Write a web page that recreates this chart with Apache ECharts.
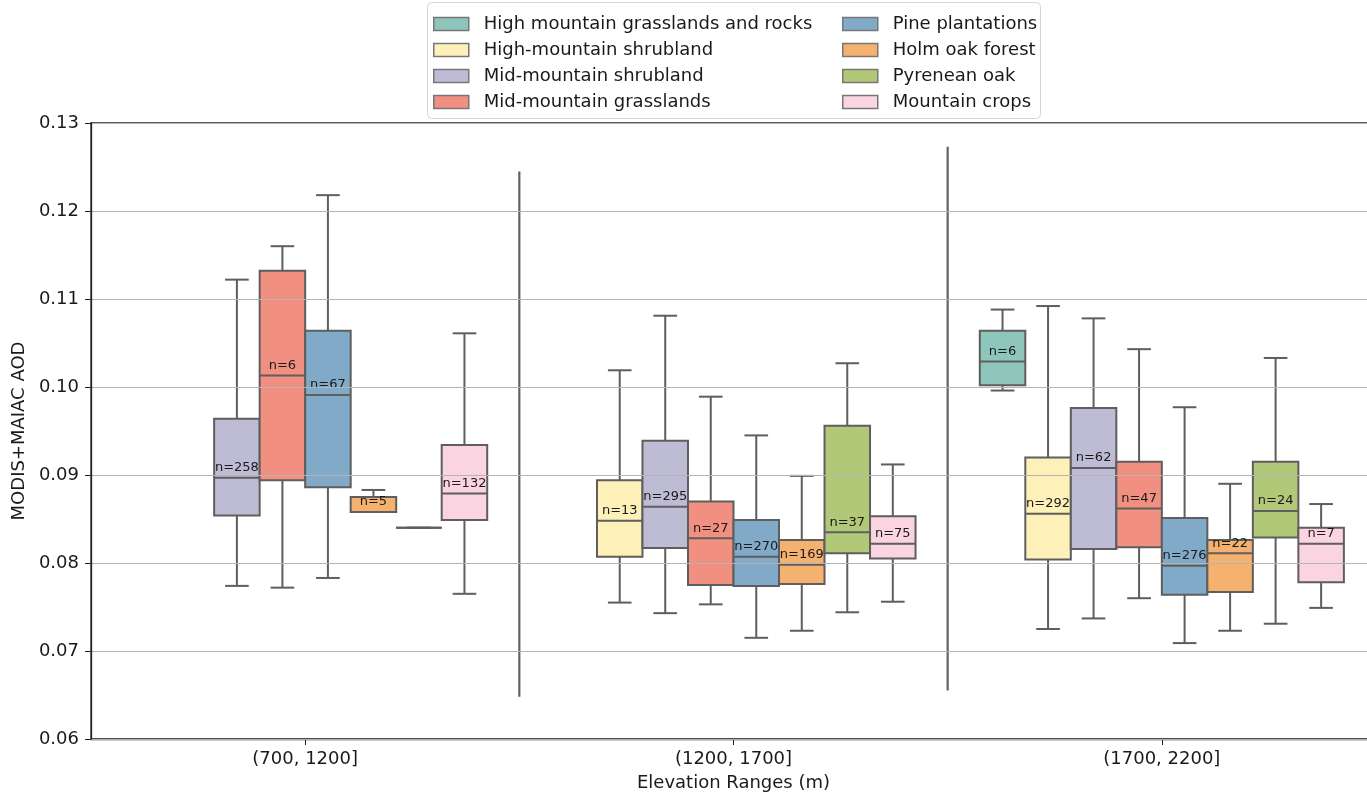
<!DOCTYPE html>
<html>
<head>
<meta charset="utf-8">
<script src="https://cdn.jsdelivr.net/npm/echarts@6/dist/echarts.min.js"></script>
<style>
html,body{margin:0;padding:0;background:#fff;}
#chart{width:1367px;height:792px;}
</style>
</head>
<body>
<div id="chart"></div>
<script>
// ---- data ----
const categories = ['(700, 1200]', '(1200, 1700]', '(1700, 2200]'];
const classNames = [
  'High mountain grasslands and rocks',
  'High-mountain shrubland',
  'Mid-mountain shrubland',
  'Mid-mountain grasslands',
  'Pine plantations',
  'Holm oak forest',
  'Pyrenean oak',
  'Mountain crops'
];
const classColors = ['#8ec6bc', '#fdf1b9', '#bebcd4', '#f18f81', '#80aac8', '#f5b16f', '#b0c878', '#fbd4e2'];
// rows: [category index, lower whisker, Q1, median, Q3, upper whisker, n]
const highGrassRocks = [[2, 0.0996, 0.1002, 0.1029, 0.1064, 0.1088, 6]];
const highShrub = [
  [1, 0.0755, 0.0807, 0.0848, 0.0894, 0.1019, 13],
  [2, 0.0725, 0.0804, 0.0856, 0.0920, 0.1092, 292]
];
const midShrub = [
  [0, 0.0774, 0.0854, 0.0897, 0.0964, 0.1122, 258],
  [1, 0.0743, 0.0817, 0.0864, 0.0939, 0.1081, 295],
  [2, 0.0737, 0.0816, 0.0908, 0.0976, 0.1078, 62]
];
const midGrass = [
  [0, 0.0772, 0.0894, 0.1013, 0.1132, 0.1160, 6],
  [1, 0.0753, 0.0775, 0.0828, 0.0870, 0.0989, 27],
  [2, 0.0760, 0.0818, 0.0862, 0.0915, 0.1043, 47]
];
const pinePlant = [
  [0, 0.0783, 0.0886, 0.0991, 0.1064, 0.1218, 67],
  [1, 0.0715, 0.0774, 0.0807, 0.0849, 0.0945, 270],
  [2, 0.0709, 0.0764, 0.0797, 0.0851, 0.0977, 276]
];
const holmOak = [
  [0, 0.0858, 0.0858, 0.0858, 0.0875, 0.0883, 5],
  [1, 0.0723, 0.0776, 0.0798, 0.0826, 0.0899, 169],
  [2, 0.0723, 0.0767, 0.0811, 0.0826, 0.0890, 22]
];
const pyreneanOak = [
  [0, 0.0840, 0.0840, 0.0840, 0.0840, 0.0840, 0],
  [1, 0.0744, 0.0811, 0.0835, 0.0956, 0.1027, 37],
  [2, 0.0731, 0.0829, 0.0859, 0.0915, 0.1033, 24]
];
const mountainCrops = [
  [0, 0.0765, 0.0849, 0.0879, 0.0934, 0.1061, 132],
  [1, 0.0756, 0.0805, 0.0822, 0.0853, 0.0912, 75],
  [2, 0.0749, 0.0778, 0.0822, 0.0840, 0.0867, 7]
];
const classData = [highGrassRocks, highShrub, midShrub, midGrass, pinePlant, holmOak, pyreneanOak, mountainCrops];
// separator lines between categories: [after category index, low, high]
const separators = [[0, 0.0648, 0.1245], [1, 0.0655, 0.1273]];
const yTicks = { min: 0.06, max: 0.13, step: 0.01 };

// ---- chart ----
const LINE = '#5e5e5e';
const SPAN = 0.85;
const NH = classNames.length;
const chart = echarts.init(document.getElementById('chart'), null, { renderer: 'canvas' });

function boxRenderer(h) {
  return function (params, api) {
    const ci = api.value(0);
    const lo = api.value(1), q1 = api.value(2), med = api.value(3), q3 = api.value(4), hi = api.value(5), n = api.value(6);
    const band = api.size([1, 0])[0];
    const slot = band * SPAN / NH;
    const cx = api.coord([ci, med])[0] + (h - (NH - 1) / 2) * slot;
    const half = slot / 2;
    const cap = slot * 0.26;
    const y = v => api.coord([ci, v])[1];
    const yLo = y(lo), yQ1 = y(q1), yMed = y(med), yQ3 = y(q3), yHi = y(hi);
    const ls = { stroke: LINE, lineWidth: 2 };
    const children = [
      { type: 'line', shape: { x1: cx, y1: yLo, x2: cx, y2: yQ1 }, style: ls },
      { type: 'line', shape: { x1: cx, y1: yQ3, x2: cx, y2: yHi }, style: ls },
      { type: 'line', shape: { x1: cx - cap, y1: yLo, x2: cx + cap, y2: yLo }, style: ls },
      { type: 'line', shape: { x1: cx - cap, y1: yHi, x2: cx + cap, y2: yHi }, style: ls },
      { type: 'rect', shape: { x: cx - half, y: yQ3, width: slot, height: Math.max(yQ1 - yQ3, 0) },
        style: { fill: classColors[h], stroke: LINE, lineWidth: 2 } },
      { type: 'line', shape: { x1: cx - half, y1: yMed, x2: cx + half, y2: yMed }, style: ls }
    ];
    if (n) {
      children.push({ type: 'text', style: { text: 'n=' + n, x: cx, y: yMed - 10, align: 'center', verticalAlign: 'middle',
        font: '13px "DejaVu Sans"', fill: '#1a1a1a' } });
    }
    return { type: 'group', children: children };
  };
}

const series = classNames.map((name, h) => ({
  type: 'custom',
  name: name,
  data: classData[h],
  encode: { x: 0, y: [1, 2, 3, 4, 5] },
  itemStyle: { color: classColors[h] },
  renderItem: boxRenderer(h),
  z: 2
}));

series.push({
  type: 'custom',
  name: 'separators',
  data: separators,
  encode: { x: 0, y: [1, 2] },
  silent: true,
  z: 2,
  renderItem: function (params, api) {
    const ci = api.value(0);
    const band = api.size([1, 0])[0];
    const p1 = api.coord([ci, api.value(1)]);
    const p2 = api.coord([ci, api.value(2)]);
    const x = p1[0] + band / 2;
    return { type: 'line', shape: { x1: x, y1: p1[1], x2: x, y2: p2[1] }, style: { stroke: '#5a5a5a', lineWidth: 2.2, opacity: 0.95 } };
  }
});

const legendCommon = {
  orient: 'vertical',
  top: 14,
  padding: 0,
  itemWidth: 35,
  itemHeight: 13,
  itemGap: 6,
  icon: 'rect',
  selectedMode: false,
  itemStyle: { borderColor: '#777', borderWidth: 1.5 },
  textStyle: { fontSize: 18, fontFamily: 'DejaVu Sans', color: '#1a1a1a', lineHeight: 20, padding: [0, 0, 0, 10] }
};

const option = {
  animation: false,
  backgroundColor: '#ffffff',
  textStyle: { fontFamily: 'DejaVu Sans' },
  graphic: [{
    type: 'rect', left: 427, top: 2, z: 0,
    shape: { width: 613, height: 116, r: 4 },
    style: { fill: '#ffffff', stroke: '#d4d4d4', lineWidth: 1 }
  }],
  legend: [
    Object.assign({}, legendCommon, { left: 433, data: classNames.slice(0, 4) }),
    Object.assign({}, legendCommon, { left: 842, data: classNames.slice(4) })
  ],
  grid: {
    left: 91, right: -9, top: 123, bottom: 53,
    show: true, borderColor: '#222', borderWidth: 1.3, backgroundColor: 'transparent',
    outerBoundsMode: 'none', containLabel: false
  },
  xAxis: {
    type: 'category',
    data: categories,
    boundaryGap: true,
    axisLine: { lineStyle: { color: '#222', width: 1.3 } },
    axisTick: { show: true, alignWithLabel: true, length: 6, lineStyle: { color: '#222', width: 1 } },
    axisLabel: { fontSize: 18, color: '#1a1a1a', margin: 11, fontFamily: 'DejaVu Sans' },
    splitLine: { show: false },
    name: 'Elevation Ranges (m)',
    nameLocation: 'middle',
    nameGap: 35,
    nameTextStyle: { fontSize: 18, color: '#1a1a1a', fontFamily: 'DejaVu Sans' }
  },
  yAxis: {
    type: 'value',
    min: yTicks.min, max: yTicks.max, interval: yTicks.step,
    z: 5,
    axisLine: { show: true, lineStyle: { color: '#222', width: 1.3 } },
    axisTick: { show: true, length: 6, lineStyle: { color: '#222', width: 1 } },
    axisLabel: { fontSize: 18, color: '#1a1a1a', margin: 12, fontFamily: 'DejaVu Sans',
      formatter: v => v.toFixed(2) },
    splitLine: { show: true, lineStyle: { color: '#b4b4b4', width: 1.2 } },
    name: 'MODIS+MAIAC AOD',
    nameLocation: 'middle',
    nameGap: 60,
    nameTextStyle: { fontSize: 18, color: '#1a1a1a', fontFamily: 'DejaVu Sans' }
  },
  series: series
};
chart.setOption(option);
</script>
</body>
</html>
